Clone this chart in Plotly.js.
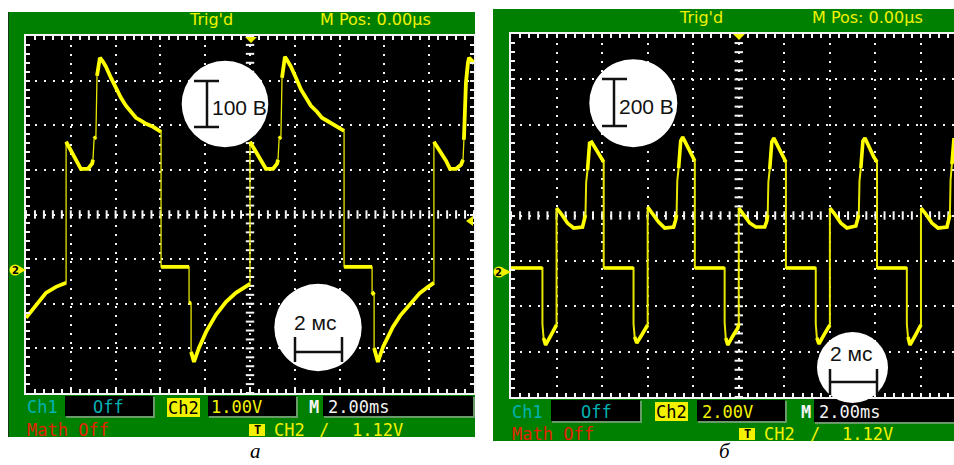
<!DOCTYPE html>
<html><head><meta charset="utf-8">
<script src="https://cdn.plot.ly/plotly-3.0.1.min.js"></script>
<style>html,body{margin:0;padding:0;background:#fff;overflow:hidden}#chart{width:954px;height:465px}</style>
</head><body><div id="chart"></div>
<script>
// ---------- data (time in ms from trigger, voltage in V from channel-2 ground) ----------
const timeA = [
-10.00,-9.55,-9.11,-8.66,-8.26,-8.21,-8.21,-7.95,-7.68,-7.55,-7.23,-7.05,-7.01,-6.96,-6.88,-6.83,-6.74,-6.70,-6.56,-6.43,-6.21,-5.98,-5.76,-5.54,-5.31,-5.09,-4.87,-4.64,-4.33,-4.06,-3.97,-3.97,-2.72,-2.72,-2.63,-2.63,-2.50,-2.28,-1.96,-1.52,-1.07,-0.63,-0.31,-0.05,0.00,
0.00,0.27,0.54,0.71,1.03,1.21,1.25,1.30,1.38,1.43,1.52,1.56,1.70,1.83,2.05,2.28,2.50,2.72,2.99,3.21,3.44,3.66,3.93,4.15,4.20,4.20,5.45,5.45,5.54,5.54,5.71,5.94,6.38,6.70,7.01,7.59,7.95,8.17,8.21,
8.21,8.48,8.75,8.93,9.20,9.42,9.51,9.55,9.64,9.73,9.78,9.91,10.00];
const voltA = [
-107.6,-78.5,-51.6,-38.1,-29.1,-29.1,287.0,264.6,239.9,226.4,226.4,237.7,246.6,293.7,298.2,434.9,470.8,475.3,466.3,455.1,430.5,405.8,385.6,367.7,354.2,340.8,334.1,327.3,320.6,311.6,309.4,6.7,6.7,-74.0,-74.0,-183.8,-206.3,-174.9,-139.0,-100.9,-71.7,-51.6,-40.4,-33.6,-31.4,
287.0,264.6,239.9,226.4,226.4,237.7,246.6,293.7,298.2,430.5,470.8,477.5,466.3,455.1,430.5,403.6,385.6,367.7,354.2,340.8,334.1,327.3,320.6,313.9,311.6,6.7,6.7,-49.3,-56.1,-174.9,-206.3,-172.6,-127.8,-103.1,-85.2,-51.6,-38.1,-31.4,-29.1,
287.0,266.8,244.4,226.4,226.4,235.4,246.6,291.5,419.3,464.1,475.3,468.6,461.9];

const timeB = [
-10.00,-8.62,-8.62,-8.57,-8.48,-8.26,-8.04,-8.00,
-8.00,-7.82,-7.52,-7.25,-6.86,-6.77,-6.73,-6.70,-6.64,-6.55,-6.46,-6.29,-6.07,-5.93,-5.93,-4.62,-4.62,-4.57,-4.48,-4.26,-4.04,-4.00,
-4.00,-3.82,-3.52,-3.25,-2.86,-2.77,-2.73,-2.70,-2.64,-2.55,-2.46,-2.29,-2.07,-1.93,-1.93,-0.62,-0.62,-0.57,-0.48,-0.26,-0.04,0.00,
0.00,0.18,0.48,0.75,1.14,1.23,1.27,1.30,1.36,1.45,1.54,1.71,1.93,2.07,2.07,3.38,3.38,3.43,3.52,3.74,3.96,4.00,
4.00,4.18,4.48,4.75,5.14,5.23,5.27,5.30,5.36,5.45,5.54,5.71,5.93,6.07,6.07,7.38,7.38,7.43,7.52,7.74,7.96,8.00,
8.00,8.18,8.48,8.75,9.14,9.23,9.27,9.30,9.36,9.45];
const voltB = [
17.6,17.6,-229.1,-290.7,-321.6,-281.9,-242.3,-233.5,
281.9,259.9,215.8,193.8,198.2,229.1,251.1,396.5,449.3,568.2,572.6,546.2,506.6,484.6,17.6,17.6,-229.1,-286.3,-312.8,-277.5,-242.3,-233.5,
286.3,259.9,220.2,193.8,198.2,229.1,251.1,400.9,458.1,577.0,594.7,559.5,515.4,489.0,17.6,17.6,-224.7,-290.7,-321.6,-281.9,-246.7,-229.1,
281.9,255.5,215.8,198.2,198.2,224.7,251.1,396.5,453.7,572.6,590.3,555.1,511.0,484.6,17.6,17.6,-229.1,-290.7,-317.2,-277.5,-242.3,-233.5,
281.9,259.9,215.8,193.8,202.6,229.1,251.1,400.9,458.1,577.0,590.3,550.7,506.6,484.6,17.6,17.6,-229.1,-286.3,-321.6,-281.9,-242.3,-233.5,
281.9,259.9,215.8,193.8,198.2,229.1,251.1,405.3,475.7,590.3];

// scope settings (text)
const labelsA = {ch1:"Ch1", ch1v:"Off", ch2:"Ch2", ch2v:"1.00V", m:"M", mv:"2.00ms", math:"Math Off", trig:"CH2", slope:"/", lvl:"1.12V", top1:"Trig'd", top2:"M Pos: 0.00\u03bcs", vbar:"100 В", tbar:"2 мс", panel:"а"};
const labelsB = {ch1:"Ch1", ch1v:"Off", ch2:"Ch2", ch2v:"2.00V", m:"M", mv:"2.00ms", math:"Math Off", trig:"CH2", slope:"/", lvl:"1.12V", top1:"Trig'd", top2:"M Pos: 0.00\u03bcs", vbar:"200 В", tbar:"2 мс", panel:"б"};

const TDIV = 2;                 // ms per division
const VDIV_A = 100, CENTER_A = 124;   // V per division, V at screen centre
const VDIV_B = 200, CENTER_B = 249;
const XR_A = [-10, 10], XR_B = [-10, 9.45];

// ---------- helpers ----------
const W = 954, H = 465;
const px = x => x / W, py = y => 1 - y / H;
const YEL = '#F2F200', CYAN = '#00B2B2', RED = '#E42200', WHITE = '#F4F4F4', GREEN = '#008000';

const domA = {x:[26,474], y:[36,393]};
const domB = {x:[511,954], y:[34,397]};

function edgesSplit(t, v, pxT, pxV) {
  const xs = [], ys = [];
  for (let i = 0; i < t.length; i++) {
    if (i > 0) {
      const dx = Math.abs(t[i]-t[i-1]) * pxT, dy = Math.abs(v[i]-v[i-1]) * pxV;
      if (dx < 1.5 && dy > 8) { xs.push(null); ys.push(null); }
    }
    xs.push(t[i]); ys.push(v[i]);
  }
  return [xs, ys];
}

function centreTicks(xr, yc, vdiv, xa, ya) {
  const vx = [], vy = [], hx = [], hy = [];
  for (let k = -20; k <= 20; k++) { vx.push(0); vy.push(yc + k * vdiv / 5); }
  for (let k = -25; k <= 25; k++) { const t = k * TDIV / 5; if (t >= xr[0] && t <= xr[1]) { hx.push(t); hy.push(yc); } }
  return [
    {x: vx, y: vy, xaxis: xa, yaxis: ya, mode: 'markers', type: 'scatter', hoverinfo: 'skip',
     marker: {symbol: 'line-ew', size: 6, line: {width: 2, color: WHITE}}},
    {x: hx, y: hy, xaxis: xa, yaxis: ya, mode: 'markers', type: 'scatter', hoverinfo: 'skip',
     marker: {symbol: 'line-ns', size: 6, line: {width: 2, color: WHITE}}}
  ];
}

function scopeTraces(t, v, xr, yc, vdiv, dom, xa, ya, thin, thick) {
  const pxT = (dom.x[1]-dom.x[0]) / (xr[1]-xr[0]);
  const pxV = (dom.y[1]-dom.y[0]) / (8 * vdiv);
  const [sx, sy] = edgesSplit(t, v, pxT, pxV);
  return [
    ...centreTicks(xr, yc, vdiv, xa, ya),
    {x: t, y: v, xaxis: xa, yaxis: ya, type: 'scatter', mode: 'lines', hoverinfo: 'skip',
     line: {color: '#E6E600', width: thin}},
    {x: sx, y: sy, xaxis: xa, yaxis: ya, type: 'scatter', mode: 'lines', hoverinfo: 'skip', connectgaps: false,
     line: {color: '#FFFF00', width: thick}}
  ];
}

function xAxis(dom, xr, anchor) {
  return {domain: [px(dom.x[0]), px(dom.x[1])], range: xr, anchor: anchor,
    dtick: TDIV, tick0: 0, showgrid: true, gridcolor: WHITE, gridwidth: 2, griddash: '2px,7px',
    zeroline: false, showline: true, linecolor: WHITE, linewidth: 2, mirror: 'allticks',
    ticks: 'inside', ticklen: 4, tickwidth: 2, tickcolor: WHITE, showticklabels: false,
    minor: {dtick: TDIV/5, tick0: 0, ticks: 'inside', ticklen: 4, tickwidth: 2, tickcolor: WHITE, showgrid: false},
    fixedrange: true};
}
function yAxis(dom, yc, vdiv, anchor, mirror) {
  return {domain: [py(dom.y[1]), py(dom.y[0])], range: [yc - 4*vdiv, yc + 4*vdiv], anchor: anchor,
    dtick: vdiv, tick0: yc, showgrid: true, gridcolor: WHITE, gridwidth: 2, griddash: '2px,7px',
    zeroline: false, showline: true, linecolor: WHITE, linewidth: 2, mirror: mirror,
    ticks: 'inside', ticklen: 4, tickwidth: 2, tickcolor: WHITE, showticklabels: false,
    minor: {dtick: vdiv/5, tick0: yc, ticks: 'inside', ticklen: 4, tickwidth: 2, tickcolor: WHITE, showgrid: false},
    fixedrange: true};
}

const shapes = [], ann = [];
function rect(x0,y0,x1,y1,fill,layer){shapes.push({type:'rect',xref:'paper',yref:'paper',x0:px(x0),x1:px(x1),y0:py(y1),y1:py(y0),fillcolor:fill,line:{width:0},layer:layer||'below'});}
function circ(cx,cy,r,fill){shapes.push({type:'circle',xref:'paper',yref:'paper',x0:px(cx-r),x1:px(cx+r),y0:py(cy+r),y1:py(cy-r),fillcolor:fill,line:{width:0},layer:'above'});}
function seg(x0,y0,x1,y1,c,w){shapes.push({type:'line',xref:'paper',yref:'paper',x0:px(x0),x1:px(x1),y0:py(y0),y1:py(y1),line:{color:c,width:w},layer:'above'});}
function poly(pts,fill){shapes.push({type:'path',xref:'paper',yref:'paper',path:'M'+pts.map(p=>px(p[0])+','+py(p[1])).join('L')+'Z',fillcolor:fill,line:{width:0},layer:'above'});}
function box(x0,y0,x1,y1){rect(x0+1,y0+1,x1+2,y1+2,'#6a9a6a'); rect(x0,y0,x1,y1,'#000000');}
function txt(s,x,y,o){o=o||{};ann.push({text:s,xref:'paper',yref:'paper',x:px(x),y:py(y),xanchor:o.xa||'left',yanchor:o.ya||'middle',showarrow:false,
  font:{family:o.f||MONO,size:o.s||17,color:o.c||YEL,weight:o.w||'normal'}});}

const MONO = 'DejaVu Sans Mono, Liberation Mono, monospace';
const PROP = 'DejaVu Sans, Liberation Sans, sans-serif';
const ARIAL = 'Liberation Sans, Arial, sans-serif';
const SERIF = 'Liberation Serif, Times New Roman, serif';

// ---------- frames ----------
rect(8,12,475,437,GREEN); rect(8,12,9,437,'#163a16');
rect(493,9,954,441,GREEN);
rect(26,36,474,393,'#000000'); rect(511,34,954,397,'#000000');

// info boxes, panel a
box(65,396,153,416); box(208,396,296,416); box(323,396,473,416);
rect(167,398,200,417,YEL); rect(249,424,265,436,YEL);
// info boxes, panel b
box(551,400,640,421); box(697,400,785,421); box(814,399,954,422);
rect(655,402,688,421,YEL); rect(739,428,755,440,YEL);

// trigger / channel markers
poly([[245,37],[257,37],[251,43]],YEL); poly([[733,34],[745,34],[739,40]],YEL);
poly([[466,221],[473,216],[473,226]],YEL);
circ(15,270,5.5,YEL); poly([[17,265],[26,270],[17,275]],YEL);
circ(499,272,5.5,YEL); poly([[501,267],[511,272],[501,277]],YEL);
txt('2',15,270,{xa:'center',s:10,c:'#000',w:'bold',f:PROP});
txt('2',499,272,{xa:'center',s:10,c:'#000',w:'bold',f:PROP});

// scale circles
circ(225,104,43.3,'#FFFFFF'); circ(318,327.5,43.7,'#FFFFFF');
circ(633.3,103.2,44,'#FFFFFF'); circ(852.5,367.5,35.5,'#FFFFFF');
const BK = '#111111';
seg(207,81,207,127,BK,2.5); seg(194,81,219,81,BK,2.5); seg(194,127,219,127,BK,2.5);
seg(614,79,614,126,BK,2.5); seg(602,79,627,79,BK,2.5); seg(602,126,627,126,BK,2.5);
seg(295,352,342,352,BK,2.5); seg(295,337,295,362,BK,2.5); seg(342,337,342,362,BK,2.5);
seg(830,382,877,382,BK,2.5); seg(830,369,830,395,BK,2.5); seg(877,369,877,395,BK,2.5);
txt(labelsA.vbar,210,107,{f:ARIAL,s:21,c:BK});
txt(labelsB.vbar,617,106,{f:ARIAL,s:21,c:BK});
txt(labelsA.tbar,315,322,{xa:'center',f:ARIAL,s:21,c:BK});
txt(labelsB.tbar,850.5,353,{xa:'center',f:ARIAL,s:21,c:BK});

// scope texts panel a
txt(labelsA.top1,187,20,{f:PROP,s:16});
txt(labelsA.top2,318,20,{f:PROP,s:16});
txt(labelsA.ch1,25,407,{c:CYAN});
txt(labelsA.ch1v,108,407,{xa:'center',c:CYAN});
txt(labelsA.ch2,183.5,407.5,{xa:'center',c:'#000'});
txt(labelsA.ch2v,209,407);
txt(labelsA.m,314,407,{xa:'center',c:WHITE,w:'bold'});
txt(labelsA.mv,326,407,{c:WHITE});
txt(labelsA.math,25,430,{c:RED});
txt('T',257,430,{xa:'center',c:'#000',w:'bold',s:12});
txt(labelsA.trig,272,430);
txt(labelsA.slope,324,430,{xa:'center'});
txt(labelsA.lvl,350,430);
// scope texts panel b
txt(labelsB.top1,677,18,{f:PROP,s:16});
txt(labelsB.top2,810,18,{f:PROP,s:16});
txt(labelsB.ch1,510,411.5,{c:CYAN});
txt(labelsB.ch1v,596,411.5,{xa:'center',c:CYAN});
txt(labelsB.ch2,671.5,411.5,{xa:'center',c:'#000'});
txt(labelsB.ch2v,700,411.5);
txt(labelsB.m,806,411.5,{xa:'center',c:WHITE,w:'bold'});
txt(labelsB.mv,817,411.5,{c:WHITE});
txt(labelsB.math,510,434,{c:RED});
txt('T',747,434,{xa:'center',c:'#000',w:'bold',s:12});
txt(labelsB.trig,762,434);
txt(labelsB.slope,815,434,{xa:'center'});
txt(labelsB.lvl,840,434);

// panel letters
txt('<i>'+labelsA.panel+'</i>',255,465,{xa:'center',ya:'bottom',f:SERIF,s:21,c:'#000'});
txt('<i>'+labelsB.panel+'</i>',725,465,{xa:'center',ya:'bottom',f:SERIF,s:21,c:'#000'});

const data = [
  ...scopeTraces(timeA, voltA, XR_A, CENTER_A, VDIV_A, domA, 'x', 'y', 1.3, 3.8),
  ...scopeTraces(timeB, voltB, XR_B, CENTER_B, VDIV_B, domB, 'x2', 'y2', 2, 3.6)
];

const layout = {
  width: W, height: H, margin: {l:0, r:0, t:0, b:0, pad:0},
  paper_bgcolor: '#FFFFFF', plot_bgcolor: '#000000',
  showlegend: false, hovermode: false,
  xaxis: xAxis(domA, XR_A, 'y'),
  yaxis: yAxis(domA, CENTER_A, VDIV_A, 'x', 'allticks'),
  xaxis2: xAxis(domB, XR_B, 'y2'),
  yaxis2: yAxis(domB, CENTER_B, VDIV_B, 'x2', false),
  shapes: shapes, annotations: ann
};
Plotly.newPlot('chart', data, layout, {staticPlot: true, displayModeBar: false});
</script></body></html>
